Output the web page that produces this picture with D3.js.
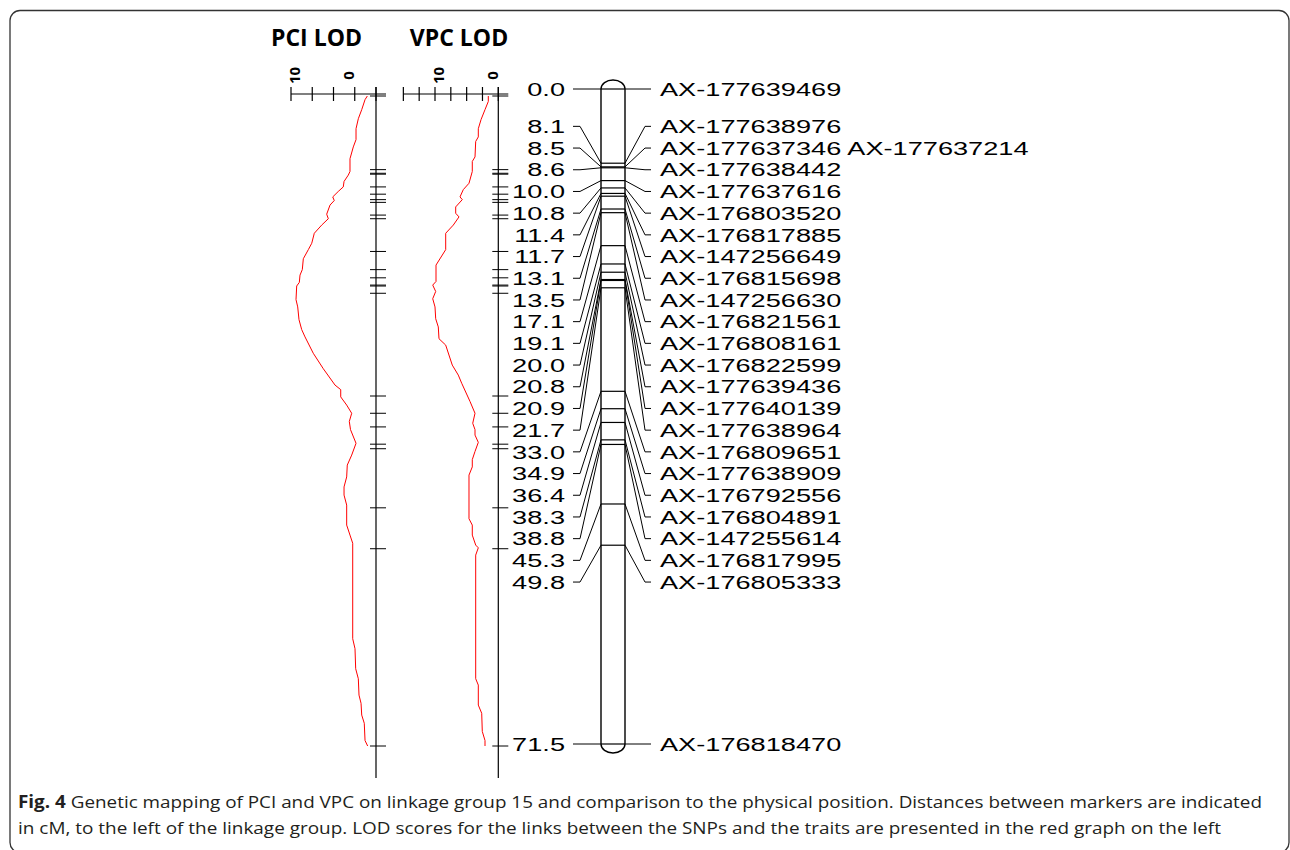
<!DOCTYPE html>
<html>
<head>
<meta charset="utf-8">
<script src="https://cdn.jsdelivr.net/npm/d3@7"></script>
<style>
  body { margin: 0; background: #fff; }
  svg { display: block; }
</style>
</head>
<body>
<div id="svg"></div>
<script>
'use strict';

// ---------- markers of linkage group 15 ---------- //
var positions = [0.0, 8.1, 8.5, 8.6, 10.0, 10.8, 11.4, 11.7, 13.1, 13.5, 17.1, 19.1,
  20.0, 20.8, 20.9, 21.7, 33.0, 34.9, 36.4, 38.3, 38.8, 45.3, 49.8, 71.5];
var markers = ['AX-177639469', 'AX-177638976', 'AX-177637346 AX-177637214', 'AX-177638442',
  'AX-177637616', 'AX-176803520', 'AX-176817885', 'AX-147256649', 'AX-176815698',
  'AX-147256630', 'AX-176821561', 'AX-176808161', 'AX-176822599', 'AX-177639436',
  'AX-177640139', 'AX-177638964', 'AX-176809651', 'AX-177638909', 'AX-176792556',
  'AX-176804891', 'AX-147255614', 'AX-176817995', 'AX-176805333', 'AX-176818470'];

// ---------- LOD profiles (cM, LOD) ---------- //
var pciCM = [0.0, 0.4, 1.5, 2.5, 3.6, 4.8, 5.6, 6.9, 8.3, 8.7, 9.4, 10.0, 10.5, 11.1, 11.5,
  12.0, 13.0, 13.5, 14.2, 15.1, 16.2, 16.9, 17.9, 19.1, 19.7, 20.5, 20.9, 22.4, 23.2, 24.6,
  25.7, 26.5, 28.3, 30.0, 31.8, 32.3, 33.1, 34.0, 34.9, 35.8, 36.7, 38.2, 39.5, 40.6, 41.9,
  43.0, 43.9, 45.0, 47.2, 48.3, 49.2, 59.7, 60.8, 63.0, 64.1, 65.9, 66.8, 68.1, 69.0, 70.9, 71.5];
var pciLOD = [1.02, 1.29, 1.68, 2.08, 2.35, 2.35, 2.67, 3.06, 3.06, 3.26, 3.76, 3.85, 4.44,
  5.09, 4.91, 5.41, 5.80, 5.61, 6.39, 7.26, 7.56, 7.96, 8.55, 8.67, 8.94, 9.02, 9.33, 9.41,
  9.21, 9.06, 8.74, 8.35, 7.38, 6.20, 4.82, 4.15, 4.15, 3.45, 2.86, 3.14, 3.00, 2.35, 2.86,
  3.38, 3.45, 3.76, 3.76, 3.45, 3.45, 3.06, 2.74, 2.74, 2.47, 2.39, 2.08, 2.00, 1.76, 1.68,
  1.38, 1.29, 0.98];

var vpcCM = [0.0, 0.6, 1.5, 2.6, 3.6, 4.5, 5.0, 6.7, 7.2, 8.3, 9.6, 10.3, 11.1, 11.4, 12.2,
  12.9, 13.3, 14.2, 15.1, 16.9, 18.6, 20.4, 20.8, 21.5, 22.3, 23.2, 24.5, 25.4, 26.7, 27.4,
  29.6, 30.7, 31.6, 33.6, 34.9, 36.0, 36.7, 37.3, 38.1, 39.1, 40.0, 40.8, 41.7, 46.5, 47.2,
  48.3, 49.4, 49.7, 50.5, 64.1, 64.8, 67.0, 67.9, 69.9, 70.9, 71.5];
var vpcLOD = [1.58, 1.58, 2.10, 2.73, 3.16, 3.16, 3.57, 3.68, 4.11, 4.11, 4.63, 5.53, 6.05,
  5.69, 6.73, 6.73, 6.21, 7.11, 8.31, 8.31, 9.84, 9.84, 10.36, 9.89, 10.36, 10.00, 9.89,
  9.48, 9.37, 8.31, 7.27, 6.32, 5.78, 4.47, 3.68, 4.04, 3.68, 3.68, 3.16, 3.68, 4.11, 4.11,
  4.63, 4.63, 4.11, 4.11, 3.57, 3.16, 3.57, 3.57, 3.16, 3.16, 2.62, 2.53, 2.10, 2.10];

var pciTicks = [0, 2.5, 5, 7.5, 10];
var vpcTicks = [0, 2.5, 5, 7.5, 10, 12.5, 15];
var tickLabels = [10, 0];

var captionBold = 'Fig. 4';
var captionLines = [
  ' Genetic mapping of PCI and VPC on linkage group 15 and comparison to the physical position. Distances between markers are indicated',
  'in cM, to the left of the linkage group. LOD scores for the links between the SNPs and the traits are presented in the red graph on the left'
];

// ---------- layout ---------- //
var width = 1290;
var height = 850;

var svg = d3.select('#svg').append('svg')
  .attr('width', width)
  .attr('height', height);

// frame
svg.append('rect')
  .attr('x', 10).attr('y', 10.5)
  .attr('width', 1279).attr('height', 842)
  .attr('rx', 10)
  .attr('fill', 'none')
  .attr('stroke', '#333')
  .attr('stroke-width', 1.3);

var chrY = d3.scaleLinear().domain([0, 71.5]).range([89, 744]);
var lodY = d3.scaleLinear().domain([0, 71.5]).range([96, 746]);

var chrLeft = 601, chrRight = 625;
var fontSize = 19, stretch = 1.43, gap = 21.7;

// spread labels so they don't overlap: merge from the bottom, centre each
// group between its first and last marker
function spreadLabels(ys, step) {
  var cl = ys.map(function (y) { return {first: y, last: y, n: 1}; });
  function top(c) { return (c.first + c.last) / 2 - (c.n - 1) * step / 2; }
  var k = cl.length - 2;
  while (k >= 0) {
    var a = cl[k], b = cl[k + 1];
    if (top(b) - (top(a) + (a.n - 1) * step) < step - 0.01) {
      cl.splice(k, 2, {first: a.first, last: b.last, n: a.n + b.n});
      k = cl.length - 2;
    } else {
      k--;
    }
  }
  var out = [];
  cl.forEach(function (c) {
    for (var i = 0; i < c.n; i++) out.push(top(c) + i * step);
  });
  return out;
}

var labelY = spreadLabels(positions.map(chrY), gap);

var data = positions.map(function (p, i) {
  return {cm: p, name: markers[i], ly: labelY[i], my: chrY(p)};
});

// ---------- chromosome ---------- //
var chr = svg.append('g').attr('class', 'chromosome');

chr.append('rect')
  .attr('x', chrLeft).attr('y', chrY(0) - 9)
  .attr('width', chrRight - chrLeft)
  .attr('height', chrY(71.5) - chrY(0) + 18)
  .attr('rx', 12).attr('ry', 9)
  .attr('fill', '#fff')
  .attr('stroke', '#000')
  .attr('stroke-width', 1.4);

chr.selectAll('line.bar').data(data).enter().append('line')
  .attr('class', 'bar')
  .attr('x1', chrLeft).attr('x2', chrRight)
  .attr('y1', function (d) { return d.my; })
  .attr('y2', function (d) { return d.my; })
  .attr('stroke', '#000')
  .attr('stroke-width', 1.2);

var link = d3.line();

chr.selectAll('path.left').data(data).enter().append('path')
  .attr('class', 'left')
  .attr('d', function (d) { return link([[573, d.ly], [580, d.ly], [chrLeft, d.my]]); })
  .attr('fill', 'none').attr('stroke', '#000').attr('stroke-width', 1);

chr.selectAll('path.right').data(data).enter().append('path')
  .attr('class', 'right')
  .attr('d', function (d) { return link([[chrRight, d.my], [645, d.ly], [651, d.ly]]); })
  .attr('fill', 'none').attr('stroke', '#000').attr('stroke-width', 1);

chr.selectAll('text.pos').data(data).enter().append('text')
  .attr('class', 'pos')
  .attr('transform', function (d) { return 'translate(565,' + d.ly + ') scale(' + stretch + ',1)'; })
  .attr('dy', '0.35em')
  .attr('text-anchor', 'end')
  .style('font-family', '"Liberation Sans", Arial, sans-serif')
  .style('font-size', fontSize + 'px')
  .attr('fill', '#000')
  .text(function (d) { return d.cm.toFixed(1); });

chr.selectAll('text.name').data(data).enter().append('text')
  .attr('class', 'name')
  .attr('transform', function (d) { return 'translate(660,' + d.ly + ') scale(' + stretch + ',1)'; })
  .attr('dy', '0.35em')
  .style('font-family', '"Liberation Sans", Arial, sans-serif')
  .style('font-size', fontSize + 'px')
  .attr('fill', '#000')
  .text(function (d) { return d.name; });

// ---------- LOD panels ---------- //
function lodPanel(title, axisX, pxPerUnit, ticks, cms, lods, titleX) {
  var x = d3.scaleLinear().domain([0, 1]).range([axisX, axisX - pxPerUnit]);
  var g = svg.append('g');
  var xMax = d3.max(ticks);

  g.append('text')
    .attr('x', titleX).attr('y', 46)
    .attr('text-anchor', 'middle')
    .style('font-family', '"Open Sans", sans-serif')
    .style('font-weight', 'bold')
    .style('font-size', '23px')
    .attr('fill', '#000')
    .text(title);

  // horizontal LOD axis
  g.append('line')
    .attr('x1', x(xMax)).attr('x2', axisX + 10)
    .attr('y1', 94).attr('y2', 94)
    .attr('stroke', '#000').attr('stroke-width', 1.2);
  g.selectAll('line.tick').data(ticks).enter().append('line')
    .attr('class', 'tick')
    .attr('x1', function (d) { return x(d); })
    .attr('x2', function (d) { return x(d); })
    .attr('y1', 87).attr('y2', 101)
    .attr('stroke', '#000').attr('stroke-width', 1.2);

  g.selectAll('text.tl').data(tickLabels).enter().append('text')
    .attr('class', 'tl')
    .attr('transform', function (d) {
      var lx = x(10) + 4 + (10 - d) * 5.4;
      return 'translate(' + lx + ',75.5) rotate(-90)';
    })
    .attr('text-anchor', 'middle')
    .attr('dy', '0.35em')
    .style('font-family', '"Open Sans", sans-serif')
    .style('font-weight', 'bold')
    .style('font-size', '15px')
    .attr('fill', '#000')
    .text(function (d) { return d; });

  // vertical map axis with marker ticks
  g.append('line')
    .attr('x1', axisX).attr('x2', axisX)
    .attr('y1', 87).attr('y2', 778)
    .attr('stroke', '#000').attr('stroke-width', 1.2);
  g.selectAll('line.mk').data(positions).enter().append('line')
    .attr('class', 'mk')
    .attr('x1', axisX - 6).attr('x2', axisX + 10)
    .attr('y1', function (d) { return lodY(d); })
    .attr('y2', function (d) { return lodY(d); })
    .attr('stroke', '#000').attr('stroke-width', 1);

  var pts = cms.map(function (c, i) { return [c, lods[i]]; });
  g.append('path')
    .datum(pts)
    .attr('d', d3.line()
      .x(function (d) { return x(d[1]); })
      .y(function (d) { return lodY(d[0]); }))
    .attr('fill', 'none')
    .attr('stroke', '#ff0000')
    .attr('stroke-width', 1);
}

lodPanel('PCI LOD', 376, 8.5, pciTicks, pciCM, pciLOD, 316.5);
lodPanel('VPC LOD', 498.3, 6.33, vpcTicks, vpcCM, vpcLOD, 459);

// ---------- caption ---------- //
var cap = svg.append('g')
  .style('font-family', '"Open Sans", sans-serif')
  .style('font-size', '17px')
  .attr('fill', '#231f20');

var t1 = cap.append('text')
  .attr('x', 18).attr('y', 808)
  .attr('textLength', 1244)
  .attr('lengthAdjust', 'spacingAndGlyphs');
t1.append('tspan').style('font-weight', 'bold').text(captionBold);
t1.append('tspan').text(captionLines[0]);

cap.append('text')
  .attr('x', 18).attr('y', 834)
  .attr('textLength', 1203)
  .attr('lengthAdjust', 'spacingAndGlyphs')
  .text(captionLines[1]);
</script>
</body>
</html>
